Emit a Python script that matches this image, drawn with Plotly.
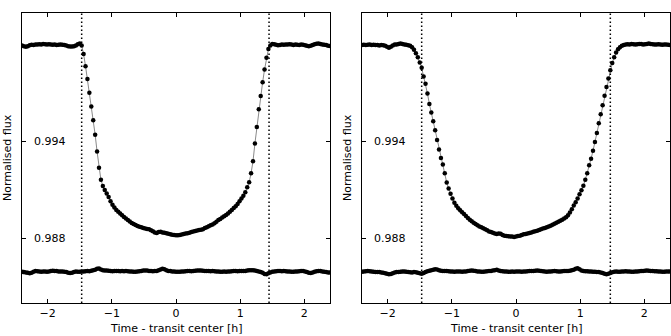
import plotly.graph_objects as go

# time from transit centre [h], shared by both light curves
time_h = [
    -2.40, -2.37, -2.34, -2.31, -2.28, -2.25, -2.22, -2.19, -2.16, -2.13,
    -2.10, -2.07, -2.04, -2.01, -1.98, -1.95, -1.92, -1.89, -1.86, -1.83,
    -1.80, -1.77, -1.74, -1.71, -1.68, -1.65, -1.62, -1.59, -1.56, -1.53,
    -1.50, -1.47, -1.44, -1.41, -1.38, -1.35, -1.32, -1.29, -1.26, -1.23,
    -1.20, -1.17, -1.14, -1.11, -1.08, -1.05, -1.02, -0.99, -0.96, -0.93,
    -0.90, -0.87, -0.84, -0.81, -0.78, -0.75, -0.72, -0.69, -0.66, -0.63,
    -0.60, -0.57, -0.54, -0.51, -0.48, -0.45, -0.42, -0.39, -0.36, -0.33,
    -0.30, -0.27, -0.24, -0.21, -0.18, -0.15, -0.12, -0.09, -0.06, -0.03,
    0.00, 0.03, 0.06, 0.09, 0.12, 0.15, 0.18, 0.21, 0.24, 0.27,
    0.30, 0.33, 0.36, 0.39, 0.42, 0.45, 0.48, 0.51, 0.54, 0.57,
    0.60, 0.63, 0.66, 0.69, 0.72, 0.75, 0.78, 0.81, 0.84, 0.87,
    0.90, 0.93, 0.96, 0.99, 1.02, 1.05, 1.08, 1.11, 1.14, 1.17,
    1.20, 1.23, 1.26, 1.29, 1.32, 1.35, 1.38, 1.41, 1.44, 1.47,
    1.50, 1.53, 1.56, 1.59, 1.62, 1.65, 1.68, 1.71, 1.74, 1.77,
    1.80, 1.83, 1.86, 1.89, 1.92, 1.95, 1.98, 2.01, 2.04, 2.07,
    2.10, 2.13, 2.16, 2.19, 2.22, 2.25, 2.28, 2.31, 2.34, 2.37,
    2.40,
]

flux_left = [
    0.99998, 0.99994, 0.99990, 0.99994, 1.00000, 1.00003, 1.00002, 1.00005, 1.00004, 1.00006,
    1.00005, 1.00007, 1.00006, 1.00004, 1.00006, 1.00005, 1.00003, 1.00004, 1.00001, 1.00003,
    1.00004, 1.00003, 1.00002, 0.99998, 0.99994, 0.99992, 0.99992, 0.99994, 0.99998, 1.00006,
    1.00010, 0.99998, 0.99945, 0.99870, 0.99790, 0.99705, 0.99620, 0.99535, 0.99445, 0.99340,
    0.99240, 0.99165, 0.99126, 0.99102, 0.99080, 0.99058, 0.99032, 0.99010, 0.98993, 0.98978,
    0.98966, 0.98955, 0.98944, 0.98934, 0.98924, 0.98915, 0.98906, 0.98897, 0.98890, 0.98884,
    0.98878, 0.98874, 0.98870, 0.98865, 0.98862, 0.98860, 0.98857, 0.98852, 0.98846, 0.98838,
    0.98834, 0.98840, 0.98842, 0.98838, 0.98836, 0.98833, 0.98830, 0.98826, 0.98824, 0.98822,
    0.98820, 0.98821, 0.98822, 0.98825, 0.98828, 0.98832, 0.98833, 0.98836, 0.98840, 0.98844,
    0.98847, 0.98850, 0.98853, 0.98855, 0.98858, 0.98865, 0.98870, 0.98876, 0.98882, 0.98888,
    0.98895, 0.98905, 0.98915, 0.98922, 0.98930, 0.98938, 0.98946, 0.98955, 0.98966, 0.98978,
    0.98990, 0.99000, 0.99015, 0.99032, 0.99048, 0.99065, 0.99088, 0.99118, 0.99150, 0.99205,
    0.99280, 0.99390, 0.99493, 0.99602, 0.99685, 0.99770, 0.99849, 0.99922, 0.99976, 0.99998,
    1.00008, 1.00006, 1.00003, 1.00000, 1.00002, 1.00004, 1.00003, 1.00005, 1.00004, 1.00006,
    1.00004, 1.00002, 1.00004, 1.00003, 1.00001, 1.00004, 1.00003, 1.00000, 0.99997, 0.99994,
    0.99996, 1.00002, 1.00006, 1.00009, 1.00010, 1.00008, 1.00004, 1.00003, 1.00001, 0.99997,
    0.99995,
]

resid_left = [
    0.98594, 0.98592, 0.98590, 0.98588, 0.98585, 0.98588, 0.98594, 0.98598, 0.98597, 0.98595,
    0.98594, 0.98596, 0.98595, 0.98594, 0.98596, 0.98598, 0.98600, 0.98599, 0.98598, 0.98596,
    0.98595, 0.98596, 0.98594, 0.98592, 0.98588, 0.98586, 0.98588, 0.98592, 0.98595, 0.98594,
    0.98594, 0.98596, 0.98595, 0.98597, 0.98598, 0.98597, 0.98600, 0.98603, 0.98607, 0.98612,
    0.98614, 0.98608, 0.98603, 0.98601, 0.98602, 0.98600, 0.98598, 0.98597, 0.98598, 0.98598,
    0.98599, 0.98597, 0.98598, 0.98597, 0.98598, 0.98597, 0.98596, 0.98595, 0.98594, 0.98594,
    0.98595, 0.98597, 0.98599, 0.98601, 0.98602, 0.98601, 0.98599, 0.98598, 0.98597, 0.98598,
    0.98598, 0.98603, 0.98608, 0.98613, 0.98609, 0.98603, 0.98599, 0.98598, 0.98596, 0.98595,
    0.98594, 0.98594, 0.98594, 0.98595, 0.98596, 0.98597, 0.98598, 0.98598, 0.98597, 0.98598,
    0.98600, 0.98601, 0.98602, 0.98601, 0.98600, 0.98599, 0.98598, 0.98598, 0.98597, 0.98598,
    0.98597, 0.98596, 0.98595, 0.98594, 0.98594, 0.98595, 0.98594, 0.98595, 0.98596, 0.98597,
    0.98598, 0.98598, 0.98597, 0.98598, 0.98599, 0.98598, 0.98599, 0.98601, 0.98603, 0.98604,
    0.98604, 0.98602, 0.98598, 0.98595, 0.98593, 0.98588, 0.98580, 0.98578, 0.98584, 0.98590,
    0.98594, 0.98596, 0.98597, 0.98598, 0.98598, 0.98597, 0.98598, 0.98597, 0.98596, 0.98595,
    0.98594, 0.98594, 0.98595, 0.98596, 0.98597, 0.98598, 0.98598, 0.98596, 0.98592, 0.98587,
    0.98586, 0.98590, 0.98594, 0.98597, 0.98598, 0.98598, 0.98596, 0.98594, 0.98592, 0.98590,
    0.98590,
]

flux_right = [
    1.00002, 1.00003, 1.00001, 1.00003, 1.00004, 1.00002, 1.00003, 1.00001, 1.00002, 0.99999,
    1.00001, 1.00000, 0.99996, 0.99990, 0.99985, 0.99990, 0.99998, 1.00004, 1.00005, 1.00008,
    1.00010, 1.00008, 1.00005, 1.00003, 1.00000, 0.99996, 0.99988, 0.99972, 0.99950, 0.99925,
    0.99893, 0.99860, 0.99806, 0.99761, 0.99700, 0.99635, 0.99582, 0.99528, 0.99472, 0.99412,
    0.99352, 0.99300, 0.99260, 0.99205, 0.99148, 0.99110, 0.99078, 0.99048, 0.99022, 0.99003,
    0.98988, 0.98975, 0.98963, 0.98952, 0.98940, 0.98928, 0.98916, 0.98907, 0.98898, 0.98890,
    0.98882, 0.98875, 0.98870, 0.98864, 0.98858, 0.98851, 0.98844, 0.98840, 0.98836, 0.98832,
    0.98828, 0.98832, 0.98830, 0.98822, 0.98818, 0.98816, 0.98815, 0.98813, 0.98812, 0.98810,
    0.98813, 0.98816, 0.98818, 0.98822, 0.98826, 0.98829, 0.98832, 0.98835, 0.98838, 0.98842,
    0.98846, 0.98849, 0.98853, 0.98857, 0.98862, 0.98866, 0.98870, 0.98875, 0.98880, 0.98886,
    0.98892, 0.98898, 0.98904, 0.98910, 0.98916, 0.98925, 0.98933, 0.98945, 0.98962, 0.98982,
    0.99005, 0.99025, 0.99048, 0.99075, 0.99100, 0.99128, 0.99165, 0.99205, 0.99255, 0.99295,
    0.99345, 0.99400, 0.99455, 0.99515, 0.99572, 0.99628, 0.99686, 0.99740, 0.99793, 0.99844,
    0.99890, 0.99925, 0.99955, 0.99975, 0.99988, 0.99996, 1.00002, 1.00004, 1.00006, 1.00005,
    1.00007, 1.00006, 1.00004, 1.00006, 1.00008, 1.00007, 1.00005, 1.00006, 1.00008, 1.00010,
    1.00008, 1.00006, 1.00005, 1.00004, 1.00006, 1.00005, 1.00003, 1.00004, 1.00005, 1.00003,
    1.00002,
]

resid_right = [
    0.98594, 0.98596, 0.98597, 0.98598, 0.98597, 0.98596, 0.98594, 0.98592, 0.98593, 0.98592,
    0.98590, 0.98588, 0.98585, 0.98581, 0.98578, 0.98580, 0.98585, 0.98590, 0.98592, 0.98593,
    0.98594, 0.98596, 0.98595, 0.98594, 0.98592, 0.98591, 0.98590, 0.98592, 0.98591, 0.98588,
    0.98584, 0.98582, 0.98586, 0.98592, 0.98597, 0.98600, 0.98603, 0.98607, 0.98610, 0.98608,
    0.98603, 0.98600, 0.98599, 0.98598, 0.98598, 0.98597, 0.98596, 0.98595, 0.98594, 0.98595,
    0.98596, 0.98595, 0.98594, 0.98595, 0.98596, 0.98598, 0.98600, 0.98602, 0.98600, 0.98598,
    0.98596, 0.98595, 0.98594, 0.98594, 0.98595, 0.98597, 0.98598, 0.98599, 0.98601, 0.98604,
    0.98606, 0.98602, 0.98598, 0.98597, 0.98596, 0.98595, 0.98594, 0.98594, 0.98595, 0.98594,
    0.98595, 0.98596, 0.98595, 0.98594, 0.98595, 0.98596, 0.98597, 0.98598, 0.98598, 0.98599,
    0.98600, 0.98601, 0.98600, 0.98598, 0.98597, 0.98595, 0.98594, 0.98595, 0.98596, 0.98597,
    0.98598, 0.98597, 0.98596, 0.98596, 0.98597, 0.98598, 0.98598, 0.98599, 0.98600, 0.98603,
    0.98607, 0.98612, 0.98616, 0.98610, 0.98602, 0.98598, 0.98597, 0.98597, 0.98596, 0.98595,
    0.98594, 0.98594, 0.98593, 0.98592, 0.98590, 0.98586, 0.98582, 0.98578, 0.98581, 0.98586,
    0.98591, 0.98594, 0.98595, 0.98594, 0.98594, 0.98595, 0.98596, 0.98597, 0.98596, 0.98595,
    0.98594, 0.98594, 0.98595, 0.98596, 0.98597, 0.98598, 0.98599, 0.98600, 0.98601, 0.98600,
    0.98599, 0.98598, 0.98597, 0.98597, 0.98596, 0.98595, 0.98594, 0.98594, 0.98595, 0.98596,
    0.98596,
]

# first and fourth contact of each transit [h]
contacts_left = [-1.47, 1.45]
contacts_right = [-1.47, 1.47]

x_ticks = [-2, -1, 0, 1, 2]
y_ticks = [0.988, 0.994]

FONT = "DejaVu Sans"
txt = dict(family=FONT, size=11, color="black")

fig = go.Figure()

panels = [
    ("x", "y", flux_left, resid_left, contacts_left),
    ("x2", "y2", flux_right, resid_right, contacts_right),
]

for xa, ya, flux, resid, contacts in panels:
    fig.add_trace(go.Scatter(
        x=time_h, y=flux, xaxis=xa, yaxis=ya,
        mode="lines+markers",
        line=dict(color="#8a8a8a", width=1),
        marker=dict(color="black", size=4.5),
        showlegend=False,
    ))
    fig.add_trace(go.Scatter(
        x=time_h, y=resid, xaxis=xa, yaxis=ya,
        mode="markers",
        marker=dict(color="black", size=4.5),
        showlegend=False,
    ))
    for c in contacts:
        fig.add_shape(
            type="line", xref=xa, yref=ya + " domain",
            x0=c, x1=c, y0=0, y1=1,
            line=dict(color="black", width=1.5, dash="1.5px,2.5px"),
        )
    # y tick labels sit inside the frame (matplotlib style)
    for v in y_ticks:
        fig.add_annotation(
            text=f"{v:.3f}", xref=xa + " domain", yref=ya,
            x=0, y=v, xshift=10, xanchor="left", yanchor="middle",
            showarrow=False, font=txt,
        )
    fig.add_annotation(
        text="Normalised flux", textangle=-90,
        xref=xa + " domain", yref=ya + " domain",
        x=0, y=0.5, xshift=-15, xanchor="center", yanchor="middle",
        showarrow=False, font=txt,
    )
    fig.add_annotation(
        text="Time - transit center [h]",
        xref=xa + " domain", yref=ya + " domain",
        x=0.5, y=0, yshift=-25, xanchor="center", yanchor="middle",
        showarrow=False, font=txt,
    )

xaxis_style = dict(
    range=[-2.4, 2.4],
    tickvals=x_ticks,
    ticks="inside", ticklen=4, tickcolor="black",
    showline=True, linecolor="black", linewidth=1, mirror="ticks",
    showgrid=False, zeroline=False, automargin=False,
)
yaxis_style = dict(
    range=[0.984, 1.002],
    tickvals=y_ticks, showticklabels=False,
    ticks="inside", ticklen=4, tickcolor="black",
    showline=True, linecolor="black", linewidth=1, mirror="ticks",
    showgrid=False, zeroline=False, automargin=False,
)

fig.update_layout(
    width=671, height=336,
    margin=dict(l=22, r=1, t=13, b=33),
    paper_bgcolor="white", plot_bgcolor="white",
    font=txt,
    xaxis=dict(domain=[0, 0.4753], anchor="y", **xaxis_style),
    yaxis=dict(domain=[0, 1], anchor="x", **yaxis_style),
    xaxis2=dict(domain=[0.5247, 1], anchor="y2", **xaxis_style),
    yaxis2=dict(domain=[0, 1], anchor="x2", **yaxis_style),
)

fig.write_html("out.html", config={"displayModeBar": False},
               post_script="document.body.style.margin='0';")
